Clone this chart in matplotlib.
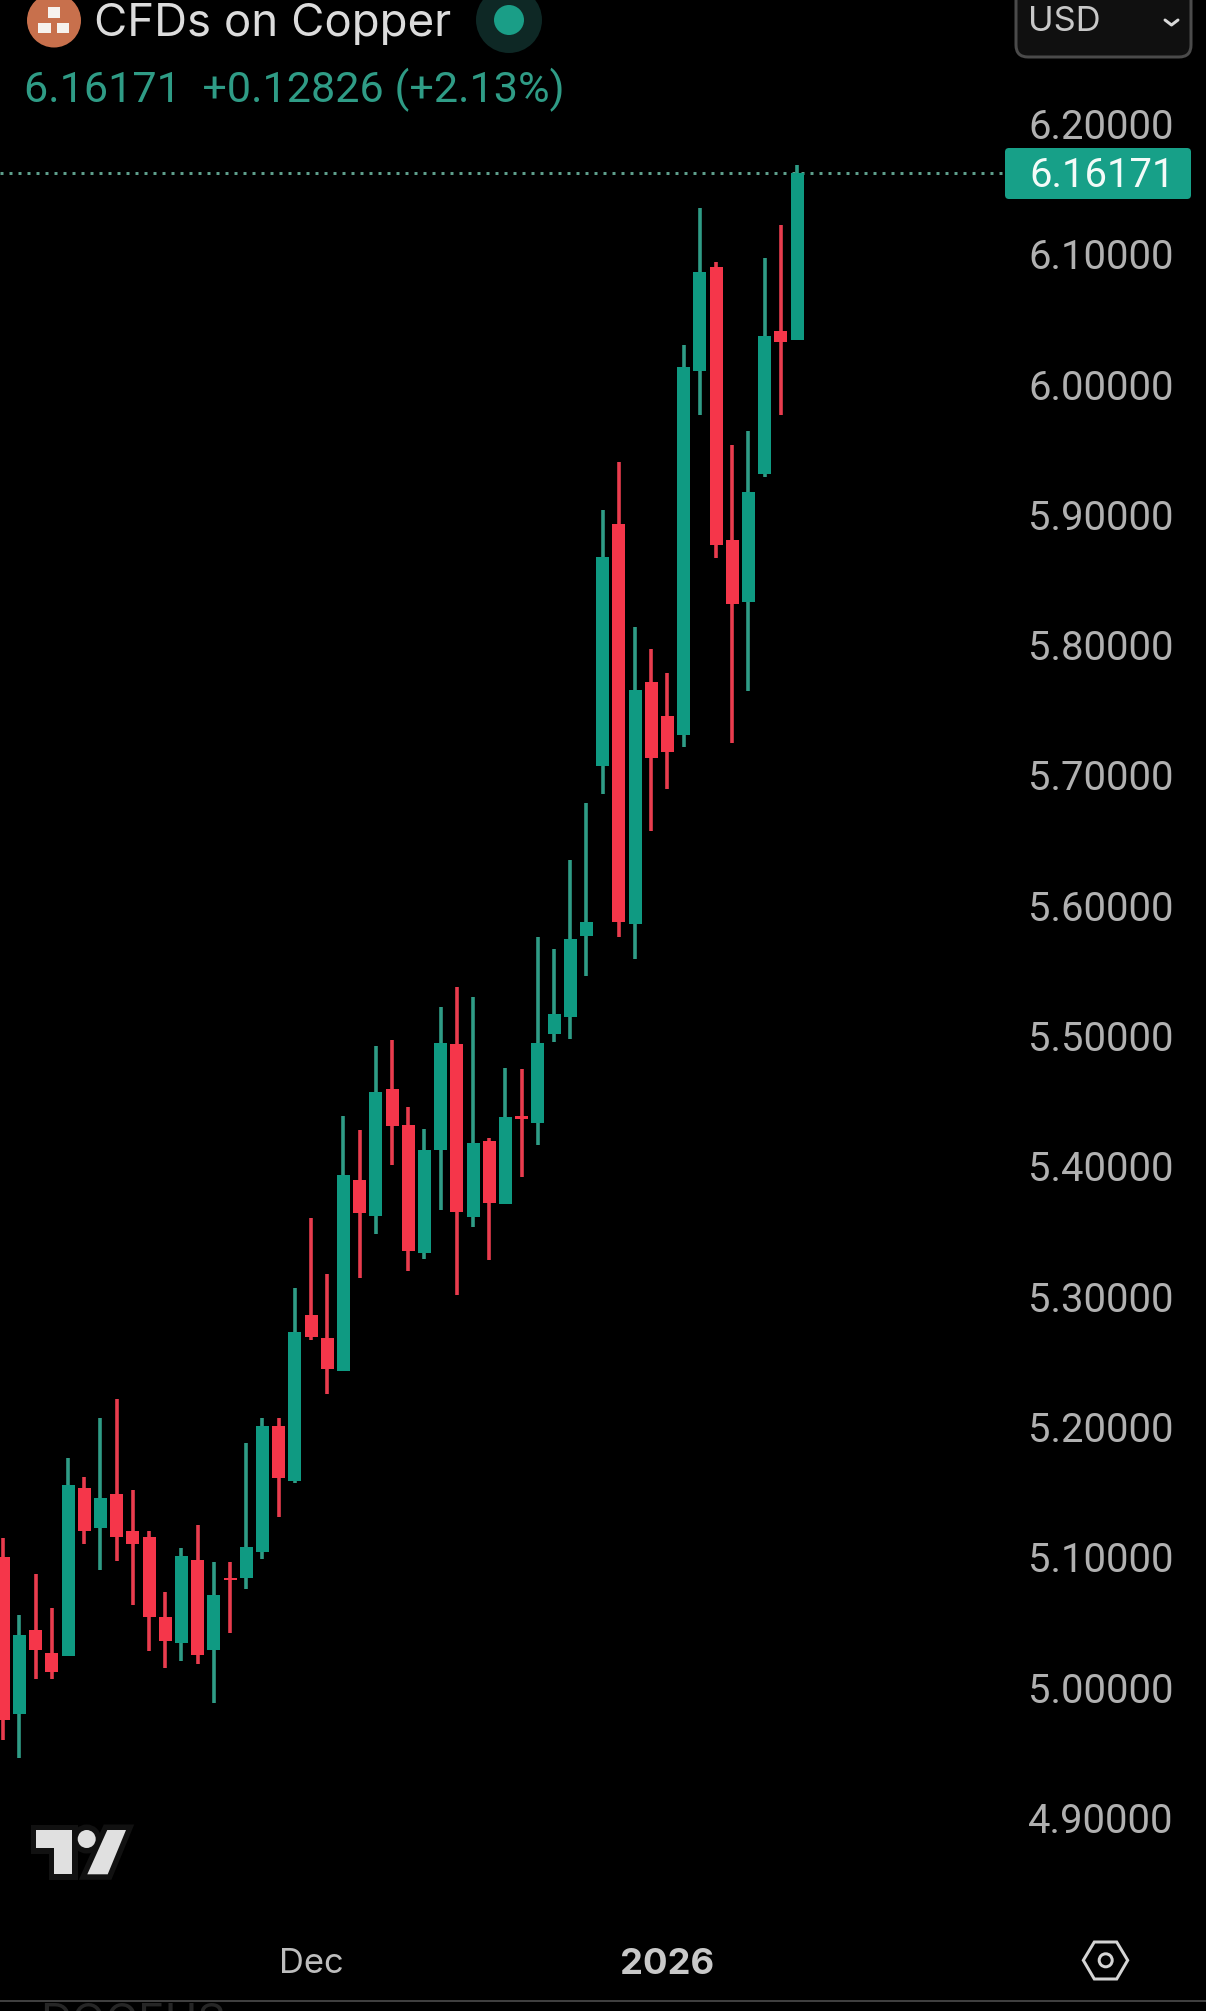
import matplotlib
matplotlib.use("Agg")
import matplotlib.pyplot as plt
from matplotlib.patches import Circle, FancyBboxPatch, Polygon, Rectangle
from matplotlib.ticker import FixedLocator, FixedFormatter, FuncFormatter

plt.rcParams['font.family'] = ['Inter', 'DejaVu Sans']

opens = [5.0998, 4.9793, 5.0437, 5.0261, 5.0238, 5.1527, 5.1220, 5.1481, 5.1197, 5.1151,
         5.0537, 5.0338, 5.0975, 5.0284, 5.0837, 5.0837, 5.1036, 5.2003, 5.1581, 5.2855,
         5.2679, 5.2428, 5.3891, 5.3615, 5.4590, 5.4313, 5.3331, 5.4121, 5.4935, 5.3607,
         5.4190, 5.3707, 5.4382, 5.4329, 5.5012, 5.5142, 5.5764, 5.7068, 5.8926, 5.5856,
         5.7713, 5.7452, 5.7306, 6.0102, 6.0898, 5.8803, 5.8327, 5.9309, 6.0407, 6.0338]
highs = [5.1141, 5.0553, 5.0867, 5.0606, 5.1758, 5.1612, 5.2065, 5.2210, 5.1512, 5.1197,
         5.0729, 5.1067, 5.1243, 5.0959, 5.0959, 5.1873, 5.2065, 5.2065, 5.3062, 5.3600,
         5.3170, 5.4382, 5.4275, 5.4920, 5.4966, 5.4451, 5.4283, 5.5219, 5.5372, 5.5296,
         5.4213, 5.4751, 5.4743, 5.5759, 5.5664, 5.6347, 5.6784, 5.9033, 5.9402, 5.8135,
         5.7966, 5.7782, 6.0299, 6.1351, 6.0936, 5.9532, 5.9639, 6.0967, 6.1220, 6.1681]
lows = [4.9593, 4.9455, 5.0062, 5.0062, 5.0238, 5.1098, 5.0898, 5.0967, 5.0629, 5.0276,
        5.0146, 5.0200, 5.0177, 4.9877, 5.0415, 5.0752, 5.0982, 5.1305, 5.1568, 5.2663,
        5.2249, 5.2428, 5.3139, 5.3477, 5.4006, 5.3193, 5.3285, 5.3661, 5.3009, 5.3530,
        5.3277, 5.3707, 5.3914, 5.4160, 5.4950, 5.4973, 5.5457, 5.6853, 5.5756, 5.5587,
        5.6570, 5.6892, 5.7214, 5.9762, 5.8665, 5.7245, 5.7644, 5.9286, 5.9762, 6.0338]
closes = [4.9747, 5.0399, 5.0284, 5.0115, 5.1550, 5.1197, 5.1451, 5.1151, 5.1098, 5.0537,
          5.0353, 5.1005, 5.0246, 5.0706, 5.0821, 5.1075, 5.2003, 5.1604, 5.2725, 5.2686,
          5.2443, 5.3930, 5.3638, 5.4566, 5.4306, 5.3346, 5.4121, 5.4943, 5.3646, 5.4175,
          5.3715, 5.4375, 5.4359, 5.4943, 5.5165, 5.5741, 5.5871, 5.8672, 5.5871, 5.7652,
          5.7130, 5.7176, 6.0131, 6.0860, 5.8764, 5.8312, 5.9171, 6.0369, 6.0322, 6.16171]

price_ticks = [4.9, 5.0, 5.1, 5.2, 5.3, 5.4, 5.5, 5.6, 5.7, 5.8, 5.9, 6.0, 6.1, 6.2]
time_ticks = [19, 41]
time_labels = ['Dec', '2026']

GREEN = '#0F9A82'
RED = '#F5364A'
WICK_GREEN = '#2F9C86'
WICK_RED = '#E93C4E'
W, H = 1206, 2011
BOT = 1925
RIGHT = 1003
pt = 72 / 100  # points per pixel

fig = plt.figure(figsize=(W / 100, H / 100), dpi=100, facecolor='black')
ax = fig.add_axes([0, 1 - BOT / H, RIGHT / W, BOT / H], facecolor='black')
ax.set_xlim(-0.2037, 61.71)
ax.set_ylim(6.16171 - (BOT - 173.3) / 1303, 6.16171 + 173.3 / 1303)

xs = list(range(len(opens)))
for i in xs:
    up = closes[i] >= opens[i]
    ax.vlines(i, lows[i], highs[i], color=WICK_GREEN if up else WICK_RED, lw=3.6 * pt, zorder=2)
    bottom = min(opens[i], closes[i])
    ax.bar(i, abs(closes[i] - opens[i]), bottom=bottom, width=0.8,
           color=GREEN if up else RED, linewidth=0, zorder=3)

ax.axhline(closes[-1], color='#5E9F8C', lw=3 * pt, linestyle=(0, (1, 2)),
           dash_capstyle='butt', zorder=1)

for s in ax.spines.values():
    s.set_visible(False)
ax.yaxis.tick_right()
ax.yaxis.set_major_locator(FixedLocator(price_ticks))
ax.yaxis.set_major_formatter(FuncFormatter(lambda v, _: f'{v:.5f}'))
ax.tick_params(axis='y', length=0, pad=25 * pt, labelsize=40 * pt, labelcolor='#B0B0B0')
for lab in ax.get_yticklabels():
    lab.set_fontfamily(['Roboto', 'DejaVu Sans'])
ax.xaxis.set_major_locator(FixedLocator(time_ticks))
ax.xaxis.set_major_formatter(FixedFormatter(time_labels))
ax.tick_params(axis='x', length=0, pad=23 * pt, labelsize=34.5 * pt, labelcolor='#BDBDBD')
ax.get_xticklabels()[1].set_fontweight('bold')
ax.get_xticklabels()[1].set_fontsize(36.5 * pt)
ax.get_xticklabels()[1].set_color('#C8C8C8')

ov = fig.add_axes([0, 0, 1, 1], facecolor='none')
ov.set_xlim(0, W)
ov.set_ylim(H, 0)
ov.axis('off')

# symbol icon
ov.add_patch(Circle((54, 20.5), 27, color='#C8704C', lw=0))
for (x0, y0, w, h) in [(48, 7, 12, 11), (38, 23, 13, 10), (57, 23, 12, 10)]:
    ov.add_patch(Rectangle((x0, y0), w, h, color='#F6F2EE', lw=0))
ov.text(94, 24, 'CFDs on Copper', color='#DCDCDC', fontsize=45.6 * pt, va='center', ha='left')
ov.add_patch(Circle((509, 20), 33, color='#0E2825', lw=0))
ov.add_patch(Circle((509, 20), 15, color='#1A9E87', lw=0))
ov.text(24, 90, '6.16171  +0.12826 (+2.13%)', color='#2F9C86', fontsize=43.2 * pt,
        va='center', ha='left', family=['Roboto', 'DejaVu Sans'])

# currency box
ov.add_patch(FancyBboxPatch((1016, -30), 175, 87, boxstyle='round,pad=0,rounding_size=12',
                            fc='#101010', ec='#4A4A4A', lw=3 * pt))
ov.text(1028, 22, 'USD', color='#C8C8C8', fontsize=34.5 * pt, va='center', ha='left')
ov.plot([1165, 1171.5, 1178], [20, 25, 20], color='#D8D8D8', lw=3 * pt, solid_capstyle='round')

# last price tag
ov.add_patch(FancyBboxPatch((1005, 148), 186, 51, boxstyle='round,pad=0,rounding_size=4',
                            fc='#17A088', ec='none'))
ov.text(1029, 175, f'{closes[-1]:.5f}', color='#F2FBF8', fontsize=40 * pt, va='center', ha='left',
        family=['Roboto', 'DejaVu Sans'])

# TradingView-like logo
halo = '#111111'
logo_t = [(35.7, 1830), (72, 1830), (72, 1874.3), (54, 1874.3), (54, 1848), (35.7, 1848)]
logo_s = [(107.3, 1830), (126, 1830), (107.7, 1874.3), (87.3, 1874.3)]
for poly in (logo_t, logo_s):
    ov.add_patch(Polygon(poly, closed=True, fc=halo, ec=halo, lw=11 * pt, joinstyle='miter'))
ov.add_patch(Circle((86.7, 1839), 9, fc=halo, ec=halo, lw=11 * pt))
for poly in (logo_t, logo_s):
    ov.add_patch(Polygon(poly, closed=True, fc='#E0E0E0', ec='none'))
ov.add_patch(Circle((86.7, 1839), 9, fc='#E0E0E0', ec='none'))

# settings hexagon
hexagon = [(1094.3, 1942), (1116.7, 1942), (1127.7, 1960.3), (1116.7, 1979), (1094.3, 1979), (1083.3, 1960.3)]
ov.add_patch(Polygon(hexagon, closed=True, fc='none', ec='#D4D4D4', lw=3 * pt))
ov.add_patch(Circle((1105.7, 1960.3), 6.5, fc='none', ec='#D4D4D4', lw=3 * pt))

# bottom separator and clipped text
ov.plot([0, W], [2001.3, 2001.3], color='#555555', lw=1.5 * pt)
ov.text(40, 2002.5, 'DOGEUS', color='#262626', fontsize=44 * pt, va='top', ha='left', clip_on=True)

fig.savefig('out.png', dpi=100, facecolor='black')
